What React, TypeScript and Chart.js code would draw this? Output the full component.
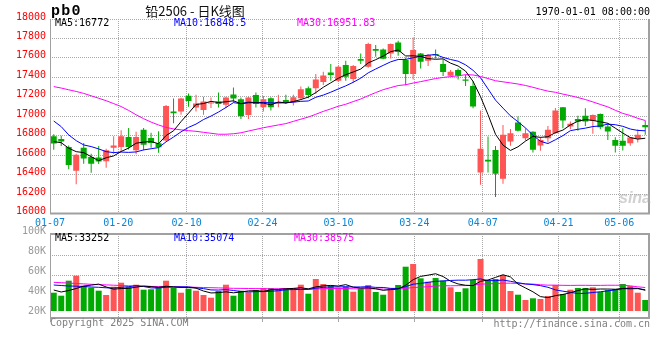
import React, { useEffect, useRef } from 'react';
import { Chart, registerables } from 'chart.js';

Chart.register(...registerables);

// ---- data (trading days 2025-01-07 .. 2025-05-12) ----
const dates = [
  '01-07','01-08','01-09','01-10','01-13','01-14','01-15','01-16','01-17','01-20',
  '01-21','01-22','01-23','01-24','01-27','02-05','02-06','02-07','02-10','02-11',
  '02-12','02-13','02-14','02-17','02-18','02-19','02-20','02-21','02-24','02-25',
  '02-26','02-27','02-28','03-03','03-04','03-05','03-06','03-07','03-10','03-11',
  '03-12','03-13','03-14','03-17','03-18','03-19','03-20','03-21','03-24','03-25',
  '03-26','03-27','03-28','03-31','04-01','04-02','04-03','04-07','04-08','04-09',
  '04-10','04-11','04-14','04-15','04-16','04-17','04-18','04-21','04-22','04-23',
  '04-24','04-25','04-28','04-29','04-30','05-06','05-07','05-08','05-09','05-12',
];

const opens = [
  16795,16765,16685,16440,16675,16580,16575,16537,16677,16684,
  16787,16650,16862,16777,16723,16750,17050,17050,17210,17091,
  17064,17132,17152,17118,17224,17176,17012,17219,17092,17184,
  17133,17167,17143,17184,17287,17287,17352,17451,17366,17526,
  17383,17588,17509,17691,17687,17646,17759,17578,17434,17646,
  17571,17639,17537,17417,17475,17379,17311,16422,16552,16654,
  16357,16740,16935,16774,16840,16699,16774,16826,17093,16894,
  16973,17004,16953,17024,16894,16757,16747,16723,16768,16911,
];
const highs = [
  16815,16800,16700,16615,16725,16615,16695,16665,16795,16855,
  16880,16840,16880,16830,16845,17115,17183,17190,17235,17220,
  17200,17193,17245,17200,17295,17193,17200,17243,17208,17195,
  17220,17220,17220,17305,17305,17434,17458,17537,17520,17571,
  17526,17646,17756,17732,17697,17749,17776,17605,17810,17650,
  17639,17687,17585,17475,17492,17424,17362,17058,16791,16695,
  16911,16870,16997,16877,16846,16785,16901,17086,17095,16946,
  17004,17083,17018,17028,16929,16785,16877,16785,16867,16956,
];
const lows = [
  16655,16695,16455,16300,16512,16420,16510,16470,16615,16633,
  16657,16610,16650,16677,16624,16740,16927,17015,17098,17050,
  17016,17084,17090,17084,17142,16972,16972,17089,17048,17058,
  17092,17126,17110,17174,17184,17229,17321,17366,17355,17366,
  17345,17537,17499,17612,17585,17595,17622,17318,17379,17492,
  17516,17595,17414,17410,17379,17311,17082,16295,16422,16169,
  16306,16696,16843,16751,16627,16644,16730,16819,16877,16867,
  16850,16901,16819,16867,16757,16627,16648,16696,16730,16809,
];
const closes = [
  16720,16740,16500,16605,16565,16512,16535,16650,16698,16794,
  16685,16787,16708,16725,16682,17105,17030,17183,17156,17132,
  17152,17142,17125,17193,17183,17000,17193,17126,17174,17092,
  17147,17147,17195,17277,17219,17379,17420,17424,17509,17407,
  17516,17571,17742,17673,17591,17742,17660,17434,17680,17561,
  17629,17626,17455,17458,17417,17366,17099,16665,16535,16408,
  16809,16826,16850,16826,16655,16757,16860,17059,16956,16922,
  16946,16946,17014,16888,16843,16696,16696,16781,16809,16888,
];
const volumes = [
  42300,39300,54300,59300,49300,47300,44300,40000,48300,52300,
  48300,50300,45300,45700,48300,54300,47000,42300,46300,44300,
  40000,37300,44000,50300,39300,44300,42700,45000,47000,47000,
  46000,46000,47000,50300,41300,56000,51000,49300,47300,48300,
  43300,46700,50000,43000,40300,47000,50000,68300,71000,56700,
  53300,57000,54300,47700,43000,46700,55000,76000,54300,56000,
  60000,44000,40300,35000,36700,36000,39000,50000,41000,45300,
  47000,47000,47700,43000,45000,46000,51000,49000,42300,35000,
];

// moving-average values before a full window exists
const ma5Lead = [16739, 16728, 16671, 16636];
const ma10Lead = [16951, 16893, 16808, 16749, 16705, 16688, 16664, 16636, 16626];
const ma30Lead = [
  17305,17290,17272,17255,17235,17210,17185,17160,17130,17100,
  17060,17015,16975,16940,16910,16885,16870,16860,16852,16845,
  16835,16825,16815,16815,16820,16830,16848,16865,16882,
];
const vma5Lead = [45000, 43000, 44500, 46500];
const vma10Lead = [50000, 49500, 49000, 48800, 48500, 48000, 47700, 47200, 47000];
const vma30Lead = [
  52700,52300,51900,51500,51100,50700,50400,50100,49800,49500,
  49200,49000,48800,48600,48500,48300,48200,48000,47900,47700,
  47500,47300,47100,46900,46700,46600,46500,46400,46300,
];

const xTickLabels = ['01-07','01-20','02-10','02-24','03-10','03-24','04-07','04-21','05-06'];
const volTickValues = [20000, 40000, 60000, 80000, 100000];
const priceLegend = ['MA5:16772', 'MA10:16848.5', 'MA30:16951.83'];
const volLegend = ['MA5:33252', 'MA10:35074', 'MA30:38575'];

// ---- styles ----
const UP = '#ff5555';
const DOWN = '#00aa00';
const GRID = '#a8a8a8';
const FRAME = '#a0a0a0';
const MONO = "'DejaVu Sans Mono', monospace";
const LEG_COLORS = ['#000000', '#0000ff', '#ff00ff'];
const DATE_GRID_SPAN = 78.91; // Sina's date grid spacing over the plot width
const VOL_BASE = 24000;

function movingAvg(src: number[], n: number, lead: number[]) {
  return src.map((_, i) => {
    if (i < n - 1) return lead[i];
    let s = 0;
    for (let k = i - n + 1; k <= i; k++) s += src[k];
    return Math.round((s / n) * 100) / 100;
  });
}

const candleColors = closes.map((c, i) => (c >= opens[i] ? UP : DOWN));
const tickIdx = xTickLabels.map((l) => dates.indexOf(l));

function lineDs(label: string, data: number[], color: string) {
  return {
    type: 'line' as const,
    label,
    data,
    borderColor: color,
    borderWidth: 1,
    pointRadius: 0,
    tension: 0,
    fill: false,
    order: 0,
    xAxisID: 'x',
    yAxisID: 'y',
  };
}

function dateAxis(showLabels: boolean) {
  return {
    type: 'linear' as const,
    position: 'bottom' as const,
    min: 0,
    max: DATE_GRID_SPAN,
    bounds: 'data' as const,
    offset: false,
    afterBuildTicks: (s: any) => {
      s.ticks = tickIdx.map((v) => ({ value: v }));
    },
    afterFit: (s: any) => {
      s.height = showLabels ? 18.5 : 0;
    },
    ticks: {
      display: showLabels,
      autoSkip: false,
      maxRotation: 0,
      padding: 4,
      color: '#0a84d6',
      font: { family: MONO, size: 10 },
      callback: (v: any) => dates[Math.round(Number(v))] ?? '',
    },
    grid: { offset: false, color: GRID, lineWidth: 1, drawTicks: !showLabels, tickLength: 4 },
    border: { display: false, dash: [1, 1] },
  };
}

const priceDecor = {
  id: 'priceDecor',
  afterDraw(chart: any) {
    const { ctx, chartArea: a } = chart;
    ctx.save();
    ctx.strokeStyle = FRAME;
    ctx.lineWidth = 1;
    ctx.beginPath();
    ctx.moveTo(a.left + 0.5, a.top);
    ctx.lineTo(a.left + 0.5, a.bottom);
    ctx.stroke();
    ctx.lineWidth = 2;
    ctx.beginPath();
    ctx.moveTo(a.left, a.bottom);
    ctx.lineTo(a.right + 1, a.bottom);
    ctx.moveTo(a.right, a.top);
    ctx.lineTo(a.right, a.bottom);
    ctx.stroke();

    // header
    ctx.fillStyle = '#000';
    ctx.textAlign = 'left';
    ctx.textBaseline = 'alphabetic';
    ctx.font = "bold 15px 'Liberation Mono', monospace";
    (ctx as any).letterSpacing = '1.2px';
    ctx.fillText('pb0', 51, 15);
    (ctx as any).letterSpacing = '0px';
    ctx.textBaseline = 'middle';
    ctx.textAlign = 'center';
    ctx.font = "13px 'Noto Sans CJK SC', sans-serif";
    ctx.fillStyle = '#111';
    ctx.fillText('铅2506 - 日K线图', 195, 11);
    ctx.textAlign = 'right';
    ctx.font = `10px ${MONO}`;
    ctx.fillStyle = '#000';
    ctx.fillText('1970-01-01 08:00:00', 650, 12);

    // MA legend
    ctx.textAlign = 'left';
    const lx = [a.left + 5, a.left + 124, a.left + 247];
    priceLegend.forEach((t, i) => {
      ctx.fillStyle = LEG_COLORS[i];
      ctx.fillText(t, lx[i], a.top + 4.5);
    });

    // watermark
    ctx.font = "italic bold 16px 'Liberation Sans', sans-serif";
    ctx.fillStyle = 'rgba(170,170,170,0.55)';
    ctx.textAlign = 'center';
    ctx.fillText('sina', a.right - 14, a.bottom - 15);
    ctx.restore();
  },
};

const volDecor = {
  id: 'volDecor',
  afterDraw(chart: any) {
    const { ctx, chartArea: a } = chart;
    ctx.save();
    ctx.strokeStyle = FRAME;
    ctx.lineWidth = 1;
    ctx.beginPath();
    ctx.moveTo(a.left + 0.5, a.top);
    ctx.lineTo(a.left + 0.5, a.bottom);
    ctx.stroke();
    ctx.lineWidth = 2;
    ctx.beginPath();
    ctx.moveTo(a.left, a.top);
    ctx.lineTo(a.right + 1, a.top);
    ctx.moveTo(a.left, a.bottom);
    ctx.lineTo(a.right + 1, a.bottom);
    ctx.moveTo(a.right, a.top);
    ctx.lineTo(a.right, a.bottom);
    ctx.stroke();

    ctx.font = `10px ${MONO}`;
    ctx.textBaseline = 'middle';
    ctx.textAlign = 'left';
    const lx = [a.left + 5, a.left + 124, a.left + 244];
    volLegend.forEach((t, i) => {
      ctx.fillStyle = LEG_COLORS[i];
      ctx.fillText(t, lx[i], a.top + 4.5);
    });
    ctx.fillStyle = '#808080';
    ctx.fillText('Copyright 2025 SINA.COM', a.left, a.bottom + 5.5);
    ctx.textAlign = 'right';
    ctx.fillText('http://finance.sina.com.cn', a.right + 1, a.bottom + 6);
    ctx.restore();
  },
};

export default function App() {
  const refA = useRef<HTMLCanvasElement>(null);
  const refB = useRef<HTMLCanvasElement>(null);

  useEffect(() => {
    const ma5 = movingAvg(closes, 5, ma5Lead);
    const ma10 = movingAvg(closes, 10, ma10Lead);
    const ma30 = movingAvg(closes, 30, ma30Lead);
    const vma5 = movingAvg(volumes, 5, vma5Lead);
    const vma10 = movingAvg(volumes, 10, vma10Lead);
    const vma30 = movingAvg(volumes, 30, vma30Lead);

    const priceChart = new Chart(refA.current as HTMLCanvasElement, {
      type: 'bar',
      data: {
        labels: dates,
        datasets: [
          lineDs('MA5', ma5, LEG_COLORS[0]),
          lineDs('MA10', ma10, LEG_COLORS[1]),
          lineDs('MA30', ma30, LEG_COLORS[2]),
          {
            type: 'bar',
            label: 'wick',
            data: lows.map((l, i) => [l, highs[i]]),
            backgroundColor: candleColors,
            barThickness: 1,
            grouped: false,
            inflateAmount: 0,
            borderWidth: 0,
            order: 2,
            xAxisID: 'x',
            yAxisID: 'y',
          },
          {
            type: 'bar',
            label: 'body',
            data: opens.map((o, i) => [o, closes[i]]),
            backgroundColor: candleColors,
            barThickness: 6,
            grouped: false,
            inflateAmount: 0,
            borderWidth: 0,
            order: 1,
            xAxisID: 'x',
            yAxisID: 'y',
          },
        ] as any,
      },
      options: {
        animation: false,
        responsive: false,
        maintainAspectRatio: false,
        layout: { padding: { top: 19, right: 11, left: 0, bottom: 0 } },
        plugins: { legend: { display: false }, tooltip: { enabled: false } },
        scales: {
          x: { type: 'category', display: false, offset: true, grid: { display: false } },
          xg: dateAxis(true) as any,
          y: {
            min: 16000,
            max: 18000,
            afterFit: (s: any) => {
              s.width = 50;
            },
            ticks: {
              stepSize: 200,
              color: '#ff0000',
              padding: 4,
              labelOffset: -2,
              font: { family: MONO, size: 10 },
              callback: (v: any) => String(v),
            },
            grid: { color: GRID, lineWidth: 1, drawTicks: false },
            border: { display: false, dash: [1, 1] },
          },
        },
      },
      plugins: [priceDecor],
    });

    const volChart = new Chart(refB.current as HTMLCanvasElement, {
      type: 'bar',
      data: {
        labels: dates,
        datasets: [
          lineDs('MA5', vma5, LEG_COLORS[0]),
          lineDs('MA10', vma10, LEG_COLORS[1]),
          lineDs('MA30', vma30, LEG_COLORS[2]),
          {
            type: 'bar',
            label: 'vol',
            data: volumes.map((v) => [VOL_BASE, v]),
            backgroundColor: candleColors,
            barThickness: 6,
            grouped: false,
            inflateAmount: 0,
            borderWidth: 0,
            order: 1,
            xAxisID: 'x',
            yAxisID: 'y',
          },
        ] as any,
      },
      options: {
        animation: false,
        responsive: false,
        maintainAspectRatio: false,
        layout: { padding: { top: 10, right: 11, left: 0, bottom: 42 } },
        plugins: { legend: { display: false }, tooltip: { enabled: false } },
        scales: {
          x: { type: 'category', display: false, offset: true, grid: { display: false } },
          xg: dateAxis(false) as any,
          y: {
            min: 17000,
            max: 101000,
            bounds: 'data',
            afterFit: (s: any) => {
              s.width = 50;
            },
            afterBuildTicks: (s: any) => {
              s.ticks = volTickValues.map((v) => ({ value: v }));
            },
            ticks: {
              color: '#999999',
              padding: 4,
              labelOffset: -4,
              font: { family: MONO, size: 10 },
              callback: (v: any) => `${Number(v) / 1000}K`,
            },
            grid: {
              color: (c: any) => (c.tick && c.tick.value >= 60000 ? GRID : 'rgba(0,0,0,0)'),
              lineWidth: 1,
              drawTicks: false,
            },
            border: { display: false, dash: [1, 1] },
          },
        },
      },
      plugins: [volDecor],
    });

    return () => {
      priceChart.destroy();
      volChart.destroy();
    };
  }, []);

  return (
    <div
      style={{
        position: 'absolute',
        left: 0,
        top: 0,
        width: 660,
        height: 360,
        background: '#ffffff',
        overflow: 'hidden',
      }}
    >
      <canvas ref={refA} width={660} height={232} style={{ position: 'absolute', left: 0, top: 0 }} />
      <canvas ref={refB} width={660} height={136} style={{ position: 'absolute', left: 0, top: 224 }} />
    </div>
  );
}
